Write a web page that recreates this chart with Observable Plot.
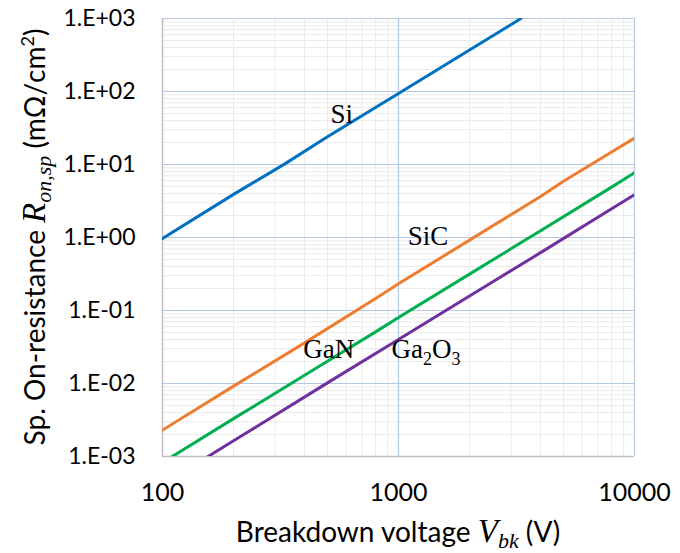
<!DOCTYPE html>
<html>
<head>
<meta charset="utf-8">
<script src="https://cdn.jsdelivr.net/npm/d3@7"></script>
<script src="https://cdn.jsdelivr.net/npm/@observablehq/plot@0.6"></script>
<style>
  html, body { margin: 0; padding: 0; background: white; }
  #chart svg { display: block; }
</style>
</head>
<body>
<div id="chart"></div>
<script>
// ---- data ----
const seriesNames = ["Si", "SiC", "GaN", "Ga2O3"];
const seriesColors = ["#0070C0", "#ED7D31", "#00B050", "#7030A0"];

const siV = [100, 200, 330, 500, 1000, 2000, 3300];
const siR = [0.97, 3.9, 10.2, 24, 94, 370, 1000];

const sicV = [100, 200, 400, 800, 1000, 2000, 4000, 5000, 8000, 10000];
const sicR = [0.0023, 0.0092, 0.036, 0.146, 0.232, 0.92, 3.65, 5.9, 14.8, 23];

const ganV = [110, 200, 500, 800, 1000, 2000, 4000, 8000, 10000];
const ganR = [0.001, 0.0033, 0.0202, 0.051, 0.080, 0.315, 1.24, 4.9, 7.7];

const gaoV = [156, 200, 500, 1000, 2000, 4000, 8000, 10000];
const gaoR = [0.001, 0.00164, 0.0102, 0.040, 0.158, 0.62, 2.47, 3.85];

const xTicks = [100, 1000, 10000];
const yTicks = [1e-3, 1e-2, 1e-1, 1e0, 1e1, 1e2, 1e3];
const yTickLabels = ["1.E-03", "1.E-02", "1.E-01", "1.E+00", "1.E+01", "1.E+02", "1.E+03"];

// series label anchors (data coordinates: voltage of text start, resistance at baseline)
const labelX = [518, 1099, 397, 939];
const labelY = [36.5, 0.765, 0.022, 0.022];

// ---- build table ----
const allV = [siV, sicV, ganV, gaoV];
const allR = [siR, sicR, ganR, gaoR];
const rows = [];
allV.forEach((vs, i) => vs.forEach((v, j) => rows.push({series: seriesNames[i], V: v, R: allR[i][j]})));

// grid lines
const minorX = [], minorY = [];
for (let e = 2; e < 4; e++) for (let m = 2; m <= 9; m++) minorX.push(m * 10 ** e);
for (let e = -3; e < 3; e++) for (let m = 2; m <= 9; m++) minorY.push(m * 10 ** e);
const majorX = [1000, 10000];
const majorY = [1e-2, 1e-1, 1e0, 1e1, 1e2, 1e3];

const minorColor = "#EBEBEB";
const majorColor = "#B4C9E6";
const axisColor = "#BFBFBF";
const sans = "Lato, 'Open Sans', sans-serif";
const serif = "'Liberation Serif', 'Times New Roman', serif";

const plot = Plot.plot({
  width: 680,
  height: 553,
  marginLeft: 162,
  marginRight: 46,
  marginTop: 18,
  marginBottom: 97,
  style: {fontFamily: sans, background: "white", color: "black"},
  x: {type: "log", domain: [100, 10000]},
  y: {type: "log", domain: [1e-3, 1e3]},
  color: {domain: seriesNames, range: seriesColors},
  marks: [
    Plot.ruleX(minorX, {stroke: minorColor, strokeWidth: 1}),
    Plot.ruleY(minorY, {stroke: minorColor, strokeWidth: 1}),
    Plot.ruleX(majorX, {stroke: majorColor, strokeWidth: 1.2}),
    Plot.ruleY(majorY, {stroke: majorColor, strokeWidth: 1.2}),
    Plot.ruleX([100], {stroke: axisColor, strokeWidth: 1.5}),
    Plot.ruleY([1e-3], {stroke: axisColor, strokeWidth: 1.5}),
    Plot.axisX({ticks: xTicks, tickFormat: d => String(d), tickSize: 0, tickPadding: 27, fontSize: 25, label: null}),
    Plot.axisY({ticks: yTicks, tickFormat: d => yTickLabels[yTicks.indexOf(d)], tickSize: 0, tickPadding: 27, fontSize: 23, label: null}),
    Plot.line(rows, {x: "V", y: "R", z: "series", stroke: "series", strokeWidth: 3, clip: true})
  ]
});

document.getElementById("chart").appendChild(plot);

const sx = plot.scale("x"), sy = plot.scale("y");
const svg = d3.select(plot);

// series labels
const lab = svg.append("g").attr("font-family", serif).attr("font-size", 27)
  .attr("fill", "black").attr("text-anchor", "start");
["Si", "SiC", "GaN"].forEach((t, i) => {
  lab.append("text").attr("x", sx.apply(labelX[i])).attr("y", sy.apply(labelY[i])).text(t);
});
const g2 = lab.append("text").attr("x", sx.apply(labelX[3])).attr("y", sy.apply(labelY[3]));
g2.append("tspan").text("Ga");
g2.append("tspan").attr("font-size", 18).attr("dy", 7).text("2");
g2.append("tspan").attr("dy", -7).text("O");
g2.append("tspan").attr("font-size", 18).attr("dy", 7).text("3");

// y axis title
const yl = svg.append("text")
  .attr("transform", `translate(45,${(18 + 456) / 2}) rotate(-90)`)
  .attr("text-anchor", "middle")
  .attr("font-family", sans)
  .attr("font-size", 28).attr("fill", "black");
yl.append("tspan").text("Sp. On-resistance ");
yl.append("tspan").attr("font-family", serif).attr("font-style", "italic").attr("font-size", 33).text("R");
yl.append("tspan").attr("font-family", serif).attr("font-style", "italic").attr("font-size", 22).attr("dy", 6).text("on,sp");
yl.append("tspan").attr("dy", -6).text(" (mΩ/cm");
yl.append("tspan").attr("font-size", 18).attr("dy", -11).text("2");
yl.append("tspan").attr("dy", 11).text(")");

// x axis title
const xl = svg.append("text")
  .attr("x", (162 + 634) / 2).attr("y", 542)
  .attr("text-anchor", "middle")
  .attr("font-family", sans)
  .attr("font-size", 28).attr("fill", "black");
xl.append("tspan").text("Breakdown voltage ");
xl.append("tspan").attr("font-family", serif).attr("font-style", "italic").attr("font-size", 33).text("V");
xl.append("tspan").attr("font-family", serif).attr("font-style", "italic").attr("font-size", 22).attr("dy", 6).text("bk");
xl.append("tspan").attr("dy", -6).text(" (V)");
</script>
</body>
</html>
